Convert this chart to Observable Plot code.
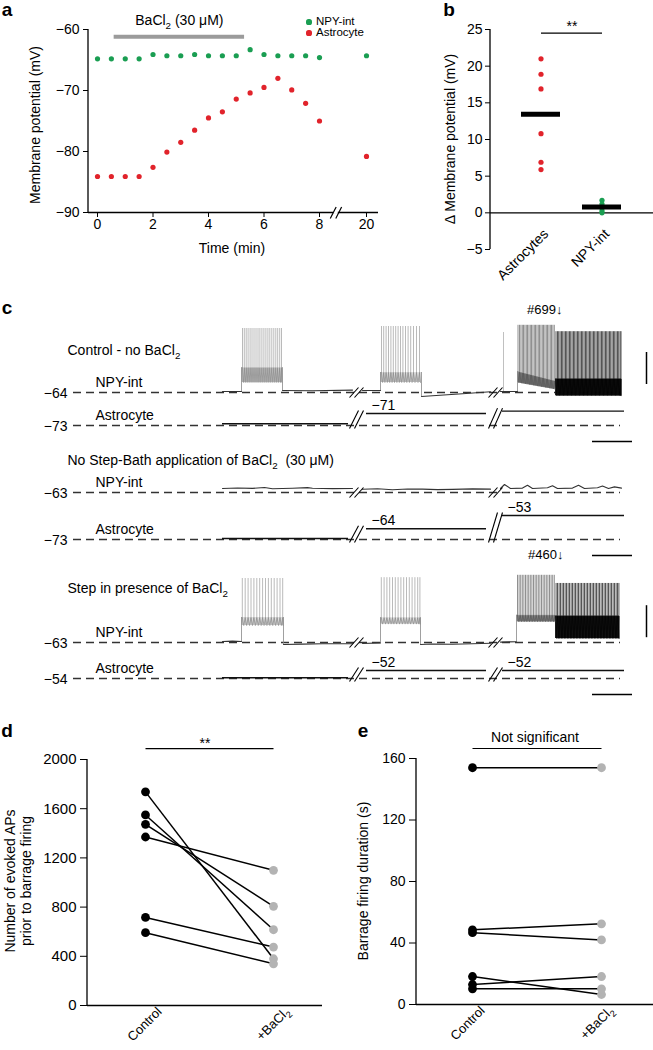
<!DOCTYPE html>
<html><head><meta charset="utf-8">
<script src="https://cdn.jsdelivr.net/npm/d3@7"></script>
<script src="https://cdn.jsdelivr.net/npm/@observablehq/plot@0.6"></script>
<style>
body{margin:0;background:#fff;font-family:"Liberation Sans",Arial,Helvetica,sans-serif;color:#000;}
#fig{position:relative;width:653px;height:1050px;overflow:hidden;background:#fff;}
.h{position:absolute;white-space:nowrap;line-height:1.15;}
sub{font-size:70%;line-height:0;vertical-align:-0.25em;}
</style></head>
<body><div id="fig"></div>
<script>
// ================= DATA =================
// Panel a: membrane potential over time
const aTime   = [0,0.5,1,1.5,2,2.5,3,3.5,4,4.5,5,5.5,6,6.5,7,7.5,8,20];
const aNpy    = [-64.8,-64.8,-64.8,-64.8,-64.1,-64.3,-64.3,-64.1,-64.3,-64.3,-64.3,-63.3,-64.1,-64.3,-64.3,-64.3,-64.6,-64.3];
const aAstro  = [-84.1,-84.1,-84.1,-84.1,-82.6,-80.1,-78.5,-76.5,-74.5,-73.5,-71.4,-70.4,-69.5,-68.0,-69.9,-72.1,-75.0,-80.8];
const aSeries = ["NPY-int","Astrocyte"];
const aTimeTicks = [0,2,4,6,8,20];
const aYTicks = [-90,-80,-70,-60];
const aBath = {start:0.6, end:5.3, level:-61.2, label:"BaCl2 (30 μM)"};

// Panel b: change in membrane potential
const bCats  = ["Astrocytes","NPY-int"];
const bAstro = [21.0,18.9,16.9,10.8,6.9,5.9];
const bNpy   = [1.7,1.2,0.8,0.3,0.0];
const bMeans = [13.45,0.8];
const bTicks = [-5,0,5,10,15,20,25];
const bSig   = {y:24.5, label:"**"};

// Panel c: recordings (time s, membrane potential mV)
const cTitles = ["Control - no BaCl2","No Step-Bath application of BaCl2 \u00a0(30 μM)","Step in presence of BaCl2"];
const cRowCells = ["NPY-int","Astrocyte","NPY-int","Astrocyte","NPY-int","Astrocyte"];
const cRowBase  = [-64,-73,-63,-73,-63,-54];
const cBreakTimes = [13.4,27.3];
const cAstroSegTimes = [[0,12.6],[14.4,26.4],[28.0,40.2]];
const cAstroLevels = [[-72.7,-71,-70.6],[-72.2,-64,-53],[-53.8,-52,-52]];
const cAstroLabelled = [[false,true,false],[false,true,true],[false,true,true]];
const cNpyTraces = [
  {row:0, pts:[[0,-62.8],[1.9,-62.8]]},
  {row:0, pts:[[6.0,-61.5],[9,-61.8],[13.0,-61.0]]},
  {row:0, pts:[[14.0,-61.5],[15.8,-61.5]]},
  {row:0, pts:[[19.9,-69],[21,-68],[24,-65.5],[26.8,-63]]},
  {row:0, pts:[[27.8,-62.8],[29.5,-62.8]]},
  {row:2, pts:[[0,-58],[1.5,-57.4],[3,-57.8],[4.2,-56.8],[5,-58.4],[7,-57.6],[8.5,-56.9],[9,-57.6],[11,-58.2],[13,-58]]},
  {row:2, pts:[[14,-59],[15.5,-58.4],[17,-59.5],[18.5,-58.6],[20,-58.8],[21.5,-59.4],[23,-59.1],[25,-58.5],[26.8,-58.8]]},
  {row:2, pts:[[27.8,-58],[28.2,-53],[28.8,-58],[30,-57.5],[30.5,-54],[31,-58],[32.5,-57],[33,-54.5],[33.5,-58],[35,-57.5],[35.6,-54],[36.2,-58],[37.5,-57],[38,-55],[38.6,-58],[39.2,-56],[39.9,-57.5]]},
  {row:4, pts:[[0,-61.8],[1.0,-61.3],[1.9,-61.8]]},
  {row:4, pts:[[6.1,-65.5],[8,-65],[10,-64.6],[13,-64.5]]},
  {row:4, pts:[[14,-64.3],[15.8,-63.5]]},
  {row:4, pts:[[19.8,-65.5],[21,-64.8],[23,-65.2],[25,-64.5],[26.8,-64]]},
  {row:4, pts:[[27.8,-62.5],[29.4,-62]]}
];
const cBursts = [
  {row:0, t0:1.9, t1:6.0, pre:-62.8, post:-61.5, lo:[-51.5,-51.5], hi:[-33,-33], peak:16, tone:"light",
   spikes:[2.0,2.18,2.37,2.56,2.76,2.95,3.15,3.35,3.55,3.74,3.94,4.14,4.34,4.54,4.73,4.93,5.13,5.33,5.52,5.72,5.9]},
  {row:0, t0:15.8, t1:19.9, pre:-61.5, post:-69, lo:[-51.5,-51.5], hi:[-39,-39], peak:18.5, tone:"light",
   spikes:[15.9,16.12,16.36,16.6,16.84,17.08,17.32,17.56,17.8,18.04,18.3,18.56,18.82,19.1,19.4,19.7]},
  {row:0, t0:29.5, t1:33.3, pre:-62.8, post:null, lo:[-51.5,-60], hi:[-38,-50], peak:20, tone:"mid",
   spikes:[29.55,29.7,29.84,29.98,30.1,30.24,30.38,30.5,30.64,30.78,30.9,31.04,31.18,31.3,31.44,31.58,31.7,31.84,31.98,32.1,32.24,32.38,32.5,32.64,32.78,32.9,33.04,33.18]},
  {row:0, t0:33.3, t1:39.9, pre:null, post:null, lo:[-68,-68], hi:[-47,-47], peak:12, tone:"dark",
   spikes:[33.35,33.5,33.62,33.76,33.9,34.02,34.16,34.3,34.42,34.56,34.7,34.82,34.96,35.1,35.22,35.36,35.5,35.62,35.76,35.9,36.02,36.16,36.3,36.42,36.56,36.7,36.82,36.96,37.1,37.22,37.36,37.5,37.62,37.76,37.9,38.02,38.16,38.3,38.42,38.56,38.7,38.82,38.96,39.1,39.22,39.36,39.5,39.62,39.76,39.85]},
  {row:4, t0:1.9, t1:6.1, pre:-61.8, post:-65.5, lo:[-41.8,-41.8], hi:[-31.8,-31.8], peak:17, tone:"light",
   spikes:[1.98,2.27,2.56,2.85,3.14,3.43,3.72,4.01,4.3,4.59,4.88,5.17,5.46,5.75,6.02]},
  {row:4, t0:15.8, t1:19.8, pre:-63.5, post:-65.5, lo:[-40,-40], hi:[-32,-32], peak:18, tone:"light",
   spikes:[15.88,16.16,16.44,16.72,17.0,17.28,17.56,17.84,18.12,18.4,18.68,18.96,19.24,19.52,19.74]},
  {row:4, t0:29.4, t1:33.3, pre:-62, post:null, lo:[-37,-37], hi:[-29,-29], peak:21, tone:"mid",
   spikes:[29.5,29.66,29.82,29.98,30.14,30.3,30.46,30.62,30.78,30.94,31.1,31.26,31.42,31.58,31.74,31.9,32.06,32.22,32.38,32.54,32.7,32.86,33.02,33.18]},
  {row:4, t0:33.3, t1:39.7, pre:null, post:null, lo:[-58,-58], hi:[-30,-30], peak:10.8, tone:"dark",
   spikes:[33.36,33.5,33.66,33.8,33.96,34.1,34.26,34.4,34.56,34.7,34.86,35.0,35.16,35.3,35.46,35.6,35.76,35.9,36.06,36.2,36.36,36.5,36.66,36.8,36.96,37.1,37.26,37.4,37.56,37.7,37.86,38.0,38.16,38.3,38.46,38.6,38.76,38.9,39.06,39.2,39.36,39.5,39.64]}
];
const cSingleSpikes = [{row:0, t:28.1, from:-62.8, peak:11}];
const cMarkers = [{row:0, t:34.0, label:"#699\u2193"},{row:4, t:34.1, label:"#460\u2193"}];
const cScale = {seconds:4, mV:40};

// Panel d: evoked APs prior to barrage firing
const dCats = ["Control","+BaCl2"];
const dControl = [1737,1549,1473,1370,716,592];
const dBaCl2   = [380,616,806,1099,475,339];
const dTicks = [0,400,800,1200,1600,2000];
const dSig = {y:2089, label:"**"};

// Panel e: barrage firing duration
const eCats = ["Control","+BaCl2"];
const eControl = [154,48.6,46.7,18.2,13.0,10.2];
const eBaCl2   = [154,52.5,42.0,6.5,18.2,10.2];
const eTicks = [0,40,80,120,160];
const eSig = {y:166.5, label:"Not significant"};

// ================= STYLE / LAYOUT =================
const FONT = '"Liberation Sans", Arial, Helvetica, sans-serif';
const GREEN = "#1a9e52", RED = "#e1232b", LIGHTGRAY = "#b3b3b3";
const fig = document.getElementById("fig");
const baseStyle = {fontFamily: FONT, fontSize: "14px", color: "#000", background: "transparent", overflow: "visible"};

function place(node, left, top) {
  node.style.position = "absolute"; node.style.left = left + "px"; node.style.top = top + "px";
  fig.appendChild(node); return node;
}
function htmlText(html, x, y, opt = {}) {
  const d = document.createElement("div");
  d.className = "h";
  d.innerHTML = html.replace(/BaCl2/g, "BaCl<sub>2</sub>");
  d.style.fontSize = (opt.size || 14) + "px";
  if (opt.weight) d.style.fontWeight = opt.weight;
  if (opt.align) d.style.textAlign = opt.align;
  d.style.left = x + "px"; d.style.top = y + "px";
  const anchor = opt.anchor || "center";
  const tx = anchor === "start" ? "0" : "-50%";
  d.style.transform = `translate(${tx},-50%)` + (opt.rotate ? ` rotate(${opt.rotate}deg)` : "");
  fig.appendChild(d); return d;
}
function subscriptSvg(svg) {
  d3.select(svg).selectAll("text, tspan").each(function() {
    const n = this;
    if (n.childNodes.length !== 1 || n.firstChild.nodeType !== 3) return;
    const s = n.textContent, i = s.indexOf("BaCl2");
    if (i < 0) return;
    const fs = parseFloat(getComputedStyle(n).fontSize) || 14;
    n.textContent = "";
    const sel = d3.select(n);
    sel.append("tspan").text(s.slice(0, i + 4));
    sel.append("tspan").attr("dy", 0.28 * fs).attr("font-size", 0.7 * fs).text("2");
    const rest = s.slice(i + 5);
    if (rest) sel.append("tspan").attr("dy", -0.28 * fs).text(rest);
  });
}
function yAxisLine(svg, plot, x) {
  const [a, b] = plot.scale("y").range;
  d3.select(svg).append("line").attr("x1", x).attr("x2", x).attr("y1", a).attr("y2", b)
    .attr("stroke", "#000").attr("stroke-width", 1.3);
}

// ================= PANEL A =================
const aRows = aTime.flatMap((t, i) => [{t, v: aNpy[i], s: aSeries[0]}, {t, v: aAstro[i], s: aSeries[1]}]);
const aBreakCenter = 12.2;
const pa = Plot.plot({
  width: 380, height: 270, marginTop: 29, marginBottom: 58, marginLeft: 88, marginRight: 2,
  style: baseStyle,
  x: {type: "linear", domain: [0, 8, 20], range: [97, 319, 366]},
  y: {domain: [-90, -60]},
  color: {domain: aSeries, range: [GREEN, RED]},
  marks: [
    Plot.ruleY([-90], {stroke: "#000", strokeWidth: 1.3}),
    Plot.rect([aBreakCenter], {x1: d => d - 0.6, x2: d => d + 0.6, y1: -90.3, y2: -89.7, fill: "#fff"}),
    Plot.link([aBreakCenter - 0.7, aBreakCenter + 0.7], {x1: d => d - 0.75, x2: d => d + 0.75, y1: -91.0, y2: -89.1, stroke: "#000", strokeWidth: 1.2}),
    Plot.axisX({ticks: aTimeTicks, tickSize: 5, tickPadding: 2, tickFormat: d => String(d), label: null, fontSize: 14}),
    Plot.axisY({ticks: aYTicks, tickSize: 5, tickPadding: 4, label: null, fontSize: 14}),
    Plot.ruleY([aBath], {x1: "start", x2: "end", y: "level", stroke: "#9b9b9b", strokeWidth: 4}),
    Plot.text([aBath], {x: d => (d.start + d.end) / 2, y: "level", text: "label", dy: -16, fontSize: 14}),
    Plot.dot(aRows, {x: "t", y: "v", fill: "s", r: 2.6})
  ]
});
place(pa, 0, 0); yAxisLine(pa, pa, 88); subscriptSvg(pa);

// legend a
[[aSeries[0], GREEN, 22], [aSeries[1], RED, 33]].forEach(([name, col, y]) => {
  const dot = document.createElement("div");
  dot.style.cssText = `position:absolute;left:${309 - 2.6}px;top:${y - 2.6}px;width:5.2px;height:5.2px;border-radius:50%;background:${col};`;
  fig.appendChild(dot);
  htmlText(name, 316, y, {size: 11.5, anchor: "start"});
});
htmlText("Membrane potential (mV)", 35, 125, {rotate: -90});
htmlText("Time (min)", 232, 248);
htmlText("a", 7, 10, {size: 19, weight: "bold"});

// ================= PANEL B =================
const bPoints = [...bAstro.map(v => ({c: bCats[0], v})), ...bNpy.map(v => ({c: bCats[1], v}))];
const bMeanRows = bCats.map((c, i) => ({c, v: bMeans[i]}));
const pb = Plot.plot({
  width: 273, height: 270, marginTop: 29, marginBottom: 21, marginLeft: 110, marginRight: 0,
  style: baseStyle,
  x: {type: "band", domain: bCats, paddingInner: 0.36, paddingOuter: 0.516},
  y: {domain: [-5, 25]},
  marks: [
    Plot.ruleY([0], {stroke: "#000", strokeWidth: 1.2}),
    Plot.axisY({ticks: bTicks, tickSize: 5, tickPadding: 3, label: null, fontSize: 14}),
    Plot.axisX({tickSize: 0, tickPadding: 0, tickRotate: -45, dy: -18, dx: 5, label: null, fontSize: 14}),
    Plot.dot(bPoints, {x: "c", y: "v", r: 2.6, fill: d => d.c === bCats[0] ? RED : GREEN}),
    Plot.tickY(bMeanRows, {x: "c", y: "v", stroke: "#000", strokeWidth: 5}),
    Plot.link([bSig], {x1: () => bCats[0], x2: () => bCats[1], y1: "y", y2: "y", stroke: "#000", strokeWidth: 1.2}),
    Plot.text([bSig], {y: d => d.y + 0.85, text: "label", fontSize: 14})
  ]
});
place(pb, 380, 0); yAxisLine(pb, pb, 110);
htmlText("\u0394 Membrane potential (mV)", 450, 139, {rotate: -90});
htmlText("b", 449, 10, {size: 19, weight: "bold"});

// ================= PANEL C =================
const rowY = [97, 130, 197, 244, 347, 383];     // baseline (dashed line) positions
const rowGain = [0.8, 6, 0.8, 1.2, 0.8, 4];     // px per mV
const titleY = [55, 165, 293];
const Y = (r, mv) => rowY[r] - (mv - cRowBase[r]) * rowGain[r];
const toneStyle = {
  light: {spike: "#a8a8a8", band: "#b8b8b8", bandOpacity: 0.45, zig: "#8a8a8a"},
  mid:   {spike: "#747474", band: "#8c8c8c", bandOpacity: 0.55, zig: "#555"},
  dark:  {spike: "#2a2a2a", band: "#050505", bandOpacity: 0.92, zig: "#000"}
};

const npyLinePts = cNpyTraces.flatMap((tr, k) => tr.pts.map(([t, mv]) => ({k, t, y: Y(tr.row, mv)})));
const lerp = (b, arr, t) => arr[0] + (arr[1] - arr[0]) * (t - b.t0) / (b.t1 - b.t0);
const bandPts = cBursts.flatMap((b, k) => [
  {k, t: b.t0, y1: Y(b.row, b.lo[0]), y2: Y(b.row, b.hi[0]), fill: toneStyle[b.tone].band, op: toneStyle[b.tone].bandOpacity},
  {k, t: b.t1, y1: Y(b.row, b.lo[1]), y2: Y(b.row, b.hi[1]), fill: toneStyle[b.tone].band, op: toneStyle[b.tone].bandOpacity}
]);
// after-hyperpolarisation zig-zag between spikes
const zigPts = cBursts.flatMap((b, k) => b.spikes.flatMap((t, i) => {
  const next = i + 1 < b.spikes.length ? b.spikes[i + 1] : b.t1;
  const mid = (t + next) / 2;
  return [{k, t, y: Y(b.row, lerp(b, b.hi, t)), c: toneStyle[b.tone].zig},
          {k, t: mid, y: Y(b.row, lerp(b, b.lo, mid)), c: toneStyle[b.tone].zig}];
}));
const spikeRules = cBursts.flatMap(b => b.spikes.map(t => ({
  t, y1: Y(b.row, lerp(b, b.lo, t)), y2: Y(b.row, b.peak), stroke: toneStyle[b.tone].spike
}))).concat(cSingleSpikes.map(s => ({t: s.t, y1: Y(s.row, s.from), y2: Y(s.row, s.peak), stroke: "#b0b0b0"})));
const edgeRules = cBursts.flatMap(b => [
  b.pre != null ? {t: b.t0, y1: Y(b.row, b.pre), y2: Y(b.row, b.hi[0])} : null,
  b.post != null ? {t: b.t1, y1: Y(b.row, b.post), y2: Y(b.row, b.hi[1])} : null
]).filter(d => d);
const astroRows = [1, 3, 5];
const astroSegs = astroRows.flatMap((r, ci) => cAstroSegTimes.map(([t0, t1], s) => ({t0, t1, y: Y(r, cAstroLevels[ci][s])})));
const levelLabels = astroRows.flatMap((r, ci) => cAstroSegTimes.map(([t0], s) => cAstroLabelled[ci][s]
  ? {t: t0 + 0.5, y: Y(r, cAstroLevels[ci][s]) - 8, s: "\u2212" + Math.abs(cAstroLevels[ci][s])} : null)).filter(d => d);
const slashes = [];
rowY.forEach((ry, r) => {
  cBreakTimes.forEach((tb, bi) => {
    let lo, hi;
    if (cRowCells[r] === "NPY-int") { lo = ry + 5; hi = ry - 5; }
    else {
      const ci = astroRows.indexOf(r);
      const a = Y(r, cAstroLevels[ci][bi]), b = Y(r, cAstroLevels[ci][bi + 1]);
      lo = Math.max(a, b, ry) + 3; hi = Math.min(a, b) - 3;
    }
    [-0.25, 0.25].forEach(o => slashes.push({x1: tb + o - 0.45, x2: tb + o + 0.45, y1: lo, y2: hi}));
  });
});
const cellLabels = rowY.map((ry, r) => ({t: -12.7, y: ry - 10, s: cRowCells[r]}));
const baseLabels = rowY.map((ry, r) => ({t: -15.5, y: ry + 1.5, s: "\u2212" + Math.abs(cRowBase[r])}));
const titleLabels = cTitles.map((s, i) => ({t: -15.5, y: titleY[i], s}));
const markerLabels = cMarkers.map(m => ({t: m.t, y: Y(m.row, m.row === 0 ? 39 : 46), s: m.label}));
const hBars = [1, 3, 5].map(r => ({t0: 37, t1: 37 + cScale.seconds, y: rowY[r] + 16}));
const vBars = [{row: 0, lo: -54}, {row: 4, lo: -57}].map(v => ({t: 42.4, y1: Y(v.row, v.lo), y2: Y(v.row, v.lo + cScale.mV)}));

const pc = Plot.plot({
  width: 653, height: 405, margin: 0,
  style: baseStyle,
  x: {domain: [-22.2, 43.1], range: [0, 653], axis: null},
  y: {domain: [0, 405], range: [0, 405], axis: null},
  color: {type: "identity"},
  opacity: {type: "identity"},
  marks: [
    Plot.ruleY(rowY, {y: d => d, x1: -14.9, x2: 39.8, stroke: "#333", strokeWidth: 1.3, strokeDasharray: "8,5"}),
    Plot.area(bandPts, {x1: "t", y1: "y1", y2: "y2", z: "k", fill: "fill", fillOpacity: "op"}),
    Plot.ruleX(spikeRules, {x: "t", y1: "y1", y2: "y2", stroke: "stroke", strokeWidth: 0.8}),
    Plot.line(zigPts, {x: "t", y: "y", z: "k", stroke: "c", strokeWidth: 0.7}),
    Plot.ruleX(edgeRules, {x: "t", y1: "y1", y2: "y2", stroke: "#888", strokeWidth: 0.8}),
    Plot.line(npyLinePts, {x: "t", y: "y", z: "k", stroke: "#333", strokeWidth: 1.1}),
    Plot.ruleY(astroSegs, {x1: "t0", x2: "t1", y: "y", stroke: "#111", strokeWidth: 1.4}),
    Plot.link(slashes, {x1: "x1", x2: "x2", y1: "y1", y2: "y2", stroke: "#000", strokeWidth: 1.1}),
    Plot.ruleY(hBars, {x1: "t0", x2: "t1", y: "y", stroke: "#000", strokeWidth: 1.5}),
    Plot.ruleX(vBars, {x: "t", y1: "y1", y2: "y2", stroke: "#000", strokeWidth: 1.5}),
    Plot.text(titleLabels, {x: "t", y: "y", text: "s", textAnchor: "start", fontSize: 14}),
    Plot.text(cellLabels, {x: "t", y: "y", text: "s", textAnchor: "start", fontSize: 14}),
    Plot.text(baseLabels, {x: "t", y: "y", text: "s", textAnchor: "end", fontSize: 14}),
    Plot.text(levelLabels, {x: "t", y: "y", text: "s", textAnchor: "start", fontSize: 14}),
    Plot.text(markerLabels, {x: "t", y: "y", text: "s", textAnchor: "end", fontSize: 13})
  ]
});
place(pc, 0, 295); subscriptSvg(pc);
htmlText("c", 7, 308, {size: 19, weight: "bold"});

// ================= PANELS D & E =================
function pairedPlot(cats, ctrl, treat, ticks, sig, opt) {
  const pairs = ctrl.map((c, i) => ({c, b: treat[i]}));
  const pts = [...ctrl.map(v => ({g: cats[0], v})), ...treat.map(v => ({g: cats[1], v}))];
  return Plot.plot({
    width: opt.width, height: 350, marginTop: opt.top, marginBottom: opt.bottom, marginLeft: opt.left, marginRight: opt.right,
    insetLeft: opt.insetLeft,
    style: baseStyle,
    x: {type: "point", domain: cats, padding: opt.padding},
    y: {domain: [ticks[0], ticks[ticks.length - 1]]},
    marks: [
      Plot.ruleY([ticks[0]], {stroke: "#000", strokeWidth: 1.3}),
      Plot.axisY({ticks, tickSize: 7, tickPadding: 4, tickFormat: d => String(d), label: null, fontSize: opt.fontSize}),
      Plot.axisX({tickSize: 0, tickPadding: 3, tickRotate: -45, dx: opt.dx, dy: 1, label: null, fontSize: 13}),
      Plot.link(pairs, {x1: () => cats[0], x2: () => cats[1], y1: "c", y2: "b", stroke: "#000", strokeWidth: 1.5}),
      Plot.dot(pts, {x: "g", y: "v", r: 4.4, fill: d => d.g === cats[0] ? "#000" : LIGHTGRAY}),
      Plot.link([sig], {x1: () => cats[0], x2: () => cats[1], y1: "y", y2: "y", stroke: "#000", strokeWidth: 1.2}),
      Plot.text([sig], {y: "y", text: "label", fontSize: 14, dy: opt.sigDy})
    ]
  });
}
const pd = pairedPlot(dCats, dControl, dBaCl2, dTicks, dSig,
  {width: 330, top: 59, bottom: 45, left: 87, right: 8, insetLeft: 8, padding: 0.38, fontSize: 15, dx: 14, sigDy: -5});
place(pd, 0, 700); yAxisLine(pd, pd, 87); subscriptSvg(pd);
htmlText("Number of evoked APs<br>prior to barrage firing", 18, 881, {rotate: -90, align: "center"});
htmlText("d", 7, 731, {size: 19, weight: "bold"});

const pe = pairedPlot(eCats, eControl, eBaCl2, eTicks, eSig,
  {width: 323, top: 58, bottom: 46, left: 86, right: 0, insetLeft: 4, padding: 0.403, fontSize: 14, dx: 10, sigDy: -11});
place(pe, 330, 700); yAxisLine(pe, pe, 86); subscriptSvg(pe);
htmlText("Barrage firing duration (s)", 363, 881, {rotate: -90});
htmlText("e", 363, 731, {size: 19, weight: "bold"});
</script>
</body></html>
